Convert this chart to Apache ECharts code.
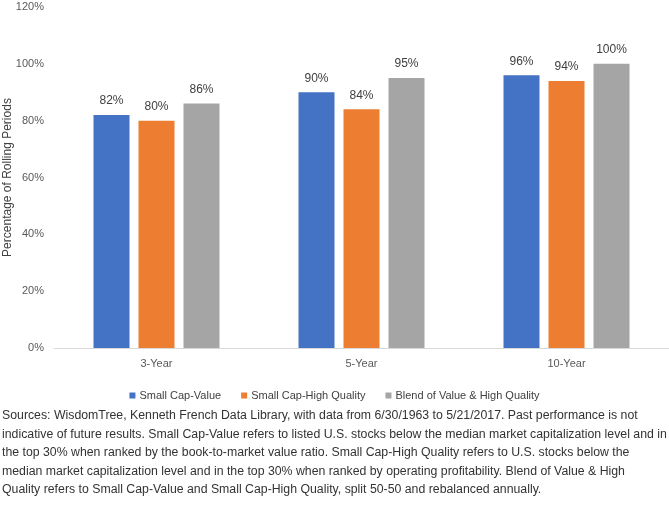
<!DOCTYPE html>
<html>
<head>
<meta charset="utf-8">
<script src="https://cdn.jsdelivr.net/npm/echarts@6/dist/echarts.min.js"></script>
<style>
  html, body { margin: 0; padding: 0; background: #fff; }
  #chart { width: 669px; height: 514px; }
</style>
</head>
<body>
<div id="chart"></div>
<script>
// rolling periods where the strategy beat the benchmark
const categories = ['3-Year', '5-Year', '10-Year']
const smallCapValue = [82, 90, 96]
const smallCapHighQuality = [80, 84, 94]
const blend = [86, 95, 100]
const seriesNames = ['Small Cap-Value', 'Small Cap-High Quality', 'Blend of Value & High Quality']
const colors = ['#4472c4', '#ed7d31', '#a5a5a5']

const footnote = [
  'Sources: WisdomTree, Kenneth French Data Library, with data from 6/30/1963 to 5/21/2017. Past performance is not',
  'indicative of future results. Small Cap-Value refers to listed U.S. stocks below the median market capitalization level and in',
  'the top 30% when ranked by the book-to-market value ratio. Small Cap-High Quality refers to U.S. stocks below the',
  'median market capitalization level and in the top 30% when ranked by operating profitability. Blend of Value & High',
  'Quality refers to Small Cap-Value and Small Cap-High Quality, split 50-50 and rebalanced annually.'
]

const font = '"Liberation Sans", Arial, sans-serif'

function makeSeries (name, data, color) {
  return {
    name: name,
    type: 'bar',
    data: data,
    barWidth: 36,
    barGap: '25%',
    itemStyle: { color: color },
    label: {
      show: true,
      position: 'top',
      distance: 8,
      formatter: '{c}%',
      color: '#404040',
      fontSize: 12,
      fontFamily: font
    }
  }
}

const chart = echarts.init(document.getElementById('chart'))
chart.setOption({
  animation: false,
  textStyle: { fontFamily: font },
  grid: { left: 54, right: 0, top: 7, bottom: 166, outerBoundsMode: 'none', containLabel: false },
  legend: {
    top: 385,
    left: 'center',
    itemWidth: 6,
    itemHeight: 6,
    itemGap: 20,
    icon: 'rect',
    textStyle: { color: '#404040', fontSize: 11, padding: [0, 0, 0, -1] },
    data: seriesNames
  },
  xAxis: {
    type: 'category',
    data: categories,
    axisLine: { lineStyle: { color: '#d9d9d9' } },
    axisTick: { show: false },
    axisLabel: { color: '#595959', fontSize: 11, margin: 10 }
  },
  yAxis: {
    type: 'value',
    min: 0,
    max: 120,
    interval: 20,
    name: 'Percentage of Rolling Periods',
    nameLocation: 'middle',
    nameGap: 40,
    nameMoveOverlap: false,
    nameTextStyle: { color: '#404040', fontSize: 12 },
    splitLine: { show: false },
    axisLine: { show: false },
    axisTick: { show: false },
    axisLabel: { color: '#595959', fontSize: 11, margin: 10, formatter: '{value}%' }
  },
  graphic: footnote.map((line, i) => ({
    type: 'text',
    left: 2,
    top: 410 + i * 18.5,
    style: { text: line, fill: '#333333', font: '12.3px ' + font }
  })),
  series: [
    makeSeries(seriesNames[0], smallCapValue, colors[0]),
    makeSeries(seriesNames[1], smallCapHighQuality, colors[1]),
    makeSeries(seriesNames[2], blend, colors[2])
  ]
})
</script>
</body>
</html>
